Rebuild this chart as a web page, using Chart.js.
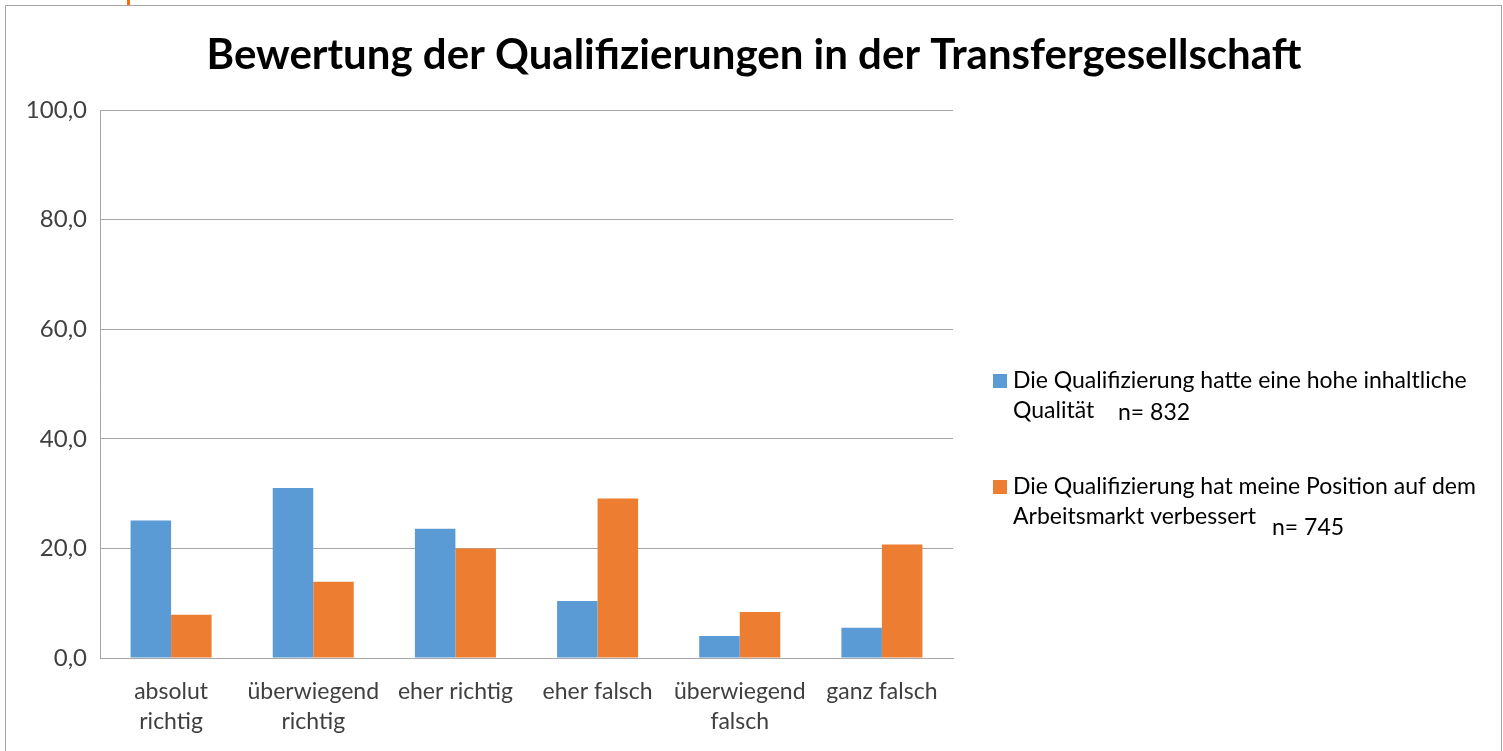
<!DOCTYPE html>
<html>
<head>
<meta charset="utf-8">
<script src="https://cdn.jsdelivr.net/npm/chart.js@4.4.1/dist/chart.umd.min.js"></script>
<style>
  body { margin: 0; background: #fff; }
  canvas { display: block; }
</style>
</head>
<body>
<canvas id="barChart" width="1503" height="751"></canvas>
<script>
// Data
const categories = [
  ['absolut', 'richtig'],
  ['überwiegend', 'richtig'],
  'eher richtig',
  'eher falsch',
  ['überwiegend', 'falsch'],
  'ganz falsch'
];
const inhaltlicheQualitaet = [25.1, 31.0, 23.6, 10.4, 4.0, 5.5];
const positionVerbessert = [7.9, 13.9, 20.0, 29.1, 8.4, 20.7];
const seriesLabels = [
  ['Die Qualifizierung hatte eine hohe inhaltliche', 'Qualität'],
  ['Die Qualifizierung hat meine Position auf dem', 'Arbeitsmarkt verbessert']
];
const sampleSizes = ['n= 832', 'n= 745'];
const yTicks = [0, 20, 40, 60, 80, 100];
const chartTitle = 'Bewertung der Qualifizierungen in der Transfergesellschaft';

const FONT = 'Lato, "Open Sans", sans-serif';

// Frame, small orange mark and the title (centred on the whole frame)
const framePlugin = {
  id: 'frame',
  beforeDraw(chart) {
    const c = chart.ctx;
    c.save();
    c.fillStyle = '#fff';
    c.fillRect(0, 0, chart.width, chart.height);
    c.strokeStyle = '#a6a6a6';
    c.lineWidth = 1;
    c.strokeRect(5.5, 5.5, 1496, 800);
    c.fillStyle = '#ff6a00';
    c.fillRect(127, 0, 3, 5);
    c.fillStyle = '#000';
    c.font = 'bold 42px ' + FONT;
    c.textAlign = 'center';
    c.textBaseline = 'middle';
    c.fillText(chartTitle, 754, 55);
    c.restore();
  }
};

// Legend on the right, with two-line labels and sample sizes
const sideLegend = {
  id: 'sideLegend',
  afterDraw(chart) {
    const c = chart.ctx;
    const tops = [381, 487];
    const nPos = [[1118, 413], [1272, 528]];
    c.save();
    c.font = '23px ' + FONT;
    c.textBaseline = 'middle';
    chart.data.datasets.forEach((ds, i) => {
      c.fillStyle = ds.backgroundColor;
      c.fillRect(993, tops[i] - 7, 14, 14);
      c.fillStyle = '#000';
      ds.labelLines.forEach((line, j) => {
        c.fillText(line, 1013, tops[i] + j * 30);
      });
      c.fillText(sampleSizes[i], nPos[i][0], nPos[i][1]);
    });
    c.restore();
  }
};

const config = {
  type: 'bar',
  data: {
    labels: categories,
    datasets: [
      {
        label: seriesLabels[0].join(' '),
        labelLines: seriesLabels[0],
        data: inhaltlicheQualitaet,
        backgroundColor: '#5b9bd5',
        categoryPercentage: 0.57,
        barPercentage: 1.0
      },
      {
        label: seriesLabels[1].join(' '),
        labelLines: seriesLabels[1],
        data: positionVerbessert,
        backgroundColor: '#ed7d31',
        categoryPercentage: 0.57,
        barPercentage: 1.0
      }
    ]
  },
  options: {
    responsive: false,
    animation: false,
    layout: {
      padding: { left: 0, right: 550, top: 110, bottom: 0 }
    },
    scales: {
      x: {
        grid: { display: false, drawTicks: false },
        border: { display: true, color: '#a6a6a6', width: 1 },
        ticks: {
          color: '#404040',
          font: { family: FONT, size: 23, lineHeight: 1.3 },
          padding: 19,
          maxRotation: 0,
          autoSkip: false
        },
        afterFit(scale) { scale.height = 93; }
      },
      y: {
        min: 0,
        max: 100,
        afterBuildTicks(scale) {
          scale.ticks = yTicks.map(v => ({ value: v }));
        },
        grid: { color: '#a6a6a6', drawTicks: false },
        border: { display: true, color: '#a6a6a6', width: 1 },
        ticks: {
          color: '#404040',
          font: { family: FONT, size: 24 },
          padding: 13,
          callback: v => v.toFixed(1).replace('.', ',')
        },
        afterFit(scale) { scale.width = 100; }
      }
    },
    plugins: {
      legend: { display: false },
      tooltip: { enabled: false },
      title: { display: false }
    }
  },
  plugins: [framePlugin, sideLegend]
};

const ctx = document.getElementById('barChart').getContext('2d');
const myBarChart = new Chart(ctx, config);
</script>
</body>
</html>
